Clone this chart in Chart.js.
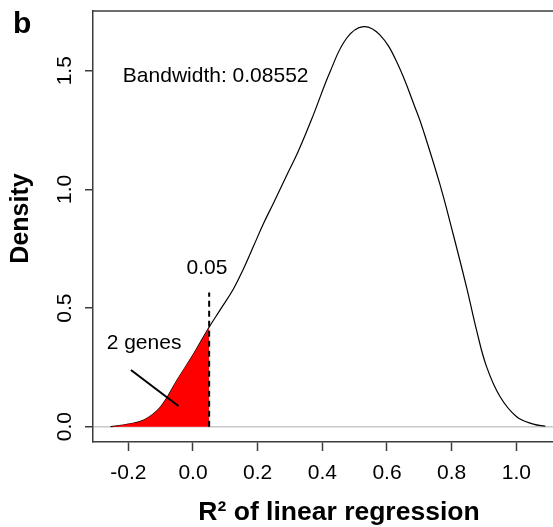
<!DOCTYPE html>
<html>
<head>
<meta charset="utf-8">
<script src="https://cdn.jsdelivr.net/npm/chart.js@4.4.1/dist/chart.umd.min.js"></script>
<style>
  html, body { margin: 0; padding: 0; background: #fff; overflow: hidden; width: 553px; height: 527px; }
  #wrap { position: absolute; left: 0; top: 0; width: 600px; height: 527px; }
</style>
</head>
<body>
<div id="wrap"><canvas id="c" width="600" height="527"></canvas></div>
<script>
// ---- data ----
const densityX = [-0.255, -0.2, -0.152, -0.1, -0.049, 0.003, 0.047, 0.084, 0.125, 0.156, 0.187, 0.217, 0.248, 0.29, 0.326, 0.372, 0.424, 0.475, 0.527, 0.578, 0.63, 0.692, 0.712, 0.764, 0.805, 0.847, 0.877, 0.908, 0.95, 1.001, 1.053, 1.09];
const densityY = [0, 0.011, 0.028, 0.084, 0.197, 0.309, 0.413, 0.492, 0.58, 0.665, 0.76, 0.853, 0.94, 1.06, 1.162, 1.313, 1.496, 1.637, 1.686, 1.651, 1.538, 1.327, 1.25, 1.02, 0.81, 0.583, 0.407, 0.253, 0.126, 0.042, 0.011, 0.002];
const shadedX = [-0.255, -0.2, -0.152, -0.1, -0.049, 0.003, 0.05];
const shadedY = [0, 0.011, 0.028, 0.084, 0.197, 0.309, 0.417];
const cutoffX = [0.05, 0.05];
const cutoffY = [0, 0.565];
const pointerX = [-0.192, -0.045];
const pointerY = [0.239, 0.087];
const xTicks = [-0.2, 0.0, 0.2, 0.4, 0.6, 0.8, 1.0];
const yTicks = [0.0, 0.5, 1.0, 1.5];
const bandwidthText = 'Bandwidth: 0.08552';
const cutoffText = '0.05';
const genesText = '2 genes';
const xTitle = 'R\u00B2 of linear regression';
const yTitle = 'Density';
const panelLabel = 'b';

const FONT = "'Liberation Sans', Arial, Helvetica, sans-serif";
const AXIS = '#3c3c3c';
const pts = (xs, ys) => xs.map((x, i) => ({ x: x, y: ys[i] }));

const overlay = {
  id: 'overlay',
  afterDraw(chart) {
    const { ctx, chartArea: a, scales: { x, y } } = chart;
    ctx.save();
    // top frame line
    ctx.strokeStyle = AXIS; ctx.lineWidth = 1.5;
    ctx.beginPath(); ctx.moveTo(a.left, a.top); ctx.lineTo(a.right, a.top); ctx.stroke();
    ctx.fillStyle = '#000';
    // rotated y tick labels
    ctx.font = '21px ' + FONT;
    ctx.textAlign = 'center'; ctx.textBaseline = 'alphabetic';
    yTicks.forEach(v => {
      ctx.save();
      ctx.translate(71, y.getPixelForValue(v));
      ctx.rotate(-Math.PI / 2);
      ctx.fillText(v.toFixed(1), 0, 0);
      ctx.restore();
    });
    // y axis title
    ctx.save();
    ctx.font = 'bold 25px ' + FONT;
    ctx.translate(28, 218.5);
    ctx.rotate(-Math.PI / 2);
    ctx.fillText(yTitle, 0, 0);
    ctx.restore();
    // annotations
    ctx.font = '21px ' + FONT;
    ctx.textAlign = 'left';
    ctx.fillText(bandwidthText, x.getPixelForValue(-0.217), y.getPixelForValue(1.454));
    ctx.fillText(genesText, x.getPixelForValue(-0.267), y.getPixelForValue(0.326));
    ctx.textAlign = 'center';
    ctx.fillText(cutoffText, x.getPixelForValue(0.043), y.getPixelForValue(0.643));
    // panel label
    ctx.font = 'bold 30px ' + FONT;
    ctx.textAlign = 'left';
    ctx.fillText(panelLabel, 13, 33);
    ctx.restore();
  }
};

new Chart(document.getElementById('c'), {
  type: 'line',
  data: {
    datasets: [
      { data: pts(shadedX, shadedY), borderWidth: 0, borderColor: 'rgba(0,0,0,0)', backgroundColor: '#ff0000',
        fill: 'origin', pointRadius: 0, tension: 0.4, order: 2 },
      { data: pts(densityX, densityY), borderColor: '#000', borderWidth: 1.2, pointRadius: 0,
        fill: false, tension: 0.4, order: 3 },
      { data: pts(cutoffX, cutoffY), borderColor: '#000', borderWidth: 2, borderDash: [6, 4],
        pointRadius: 0, fill: false, tension: 0, order: 1 },
      { data: pts(pointerX, pointerY), borderColor: '#000', borderWidth: 2,
        pointRadius: 0, fill: false, tension: 0, order: 0 }
    ]
  },
  options: {
    responsive: false,
    animation: false,
    events: [],
    layout: { padding: { left: 0, top: 11, right: 15, bottom: 0 } },
    plugins: { legend: { display: false }, tooltip: { enabled: false } },
    scales: {
      x: {
        type: 'linear', position: 'bottom',
        min: -0.3093, max: 1.2125,
        afterBuildTicks: s => { s.ticks = xTicks.map(v => ({ value: v })); },
        afterFit: s => { s.height = 85; },
        border: { display: true, color: AXIS, width: 1.5 },
        grid: { drawOnChartArea: false, drawTicks: true, tickLength: 9, tickColor: AXIS, tickWidth: 1.5 },
        ticks: { color: '#000', font: { family: FONT, size: 21 }, padding: 10, maxRotation: 0,
                 callback: v => v.toFixed(1) },
        title: { display: true, text: xTitle, color: '#000',
                 font: { family: FONT, size: 26.5, weight: 'bold', lineHeight: 1 }, padding: { top: 0, bottom: 1.5 } }
      },
      y: {
        type: 'linear', position: 'left',
        min: -0.0645, max: 1.7518,
        afterBuildTicks: s => { s.ticks = yTicks.map(v => ({ value: v })); },
        afterFit: s => { s.width = 93; },
        border: { display: true, color: AXIS, width: 1.5 },
        grid: {
          drawOnChartArea: true, drawTicks: true, tickLength: 8, tickWidth: 1.5,
          color: c => (c.tick && c.tick.value === 0) ? '#c8c8c8' : 'rgba(0,0,0,0)',
          lineWidth: 1.5, tickColor: AXIS
        },
        ticks: { display: false },
        title: { display: false }
      }
    }
  },
  plugins: [overlay]
});
</script>
</body>
</html>
